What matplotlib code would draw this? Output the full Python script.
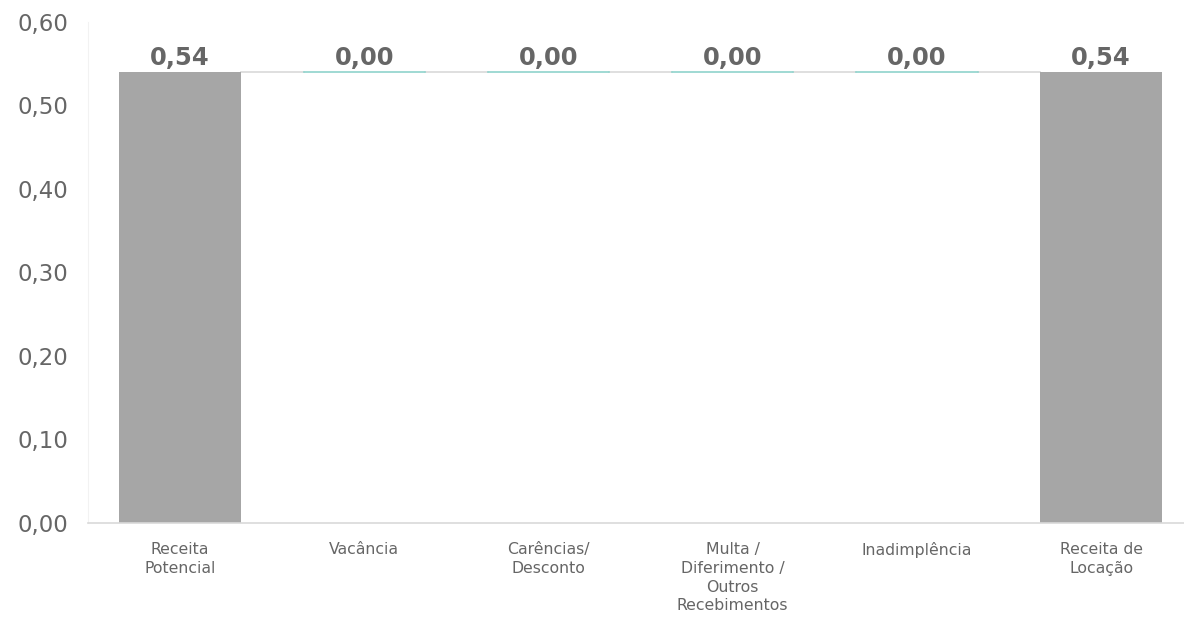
import matplotlib.pyplot as plt

plt.rcParams['font.family'] = ['DejaVu Sans']

# Chart data (waterfall)
categories = ['Receita\nPotencial', 'Vacância', 'Carências/\nDesconto',
              'Multa /\nDiferimento /\nOutros\nRecebimentos', 'Inadimplência',
              'Receita de\nLocação']
values = [0.54, 0.00, 0.00, 0.00, 0.00, 0.54]
is_total = [True, False, False, False, False, True]
y_ticks = [0.0, 0.1, 0.2, 0.3, 0.4, 0.5, 0.6]


def fmt(v):
    return f'{v:.2f}'.replace('.', ',')


fig = plt.figure(figsize=(11.84, 6.19), dpi=100)
ax = fig.add_axes([88 / 1184, 96 / 619, 1 - 88 / 1184, 0.8095])

bar_w = 0.66
running = 0.0
tops = []
for i, (v, tot) in enumerate(zip(values, is_total)):
    if tot:
        ax.bar(i, v, width=bar_w, color='#a6a6a6', zorder=2)
        running = v
        top = v
    else:
        bottom = running if v >= 0 else running + v
        ax.bar(i, abs(v), bottom=bottom, width=bar_w, color='#8fd3cc', zorder=2)
        # zero-height step still shows as a thin teal line
        ax.plot([i - bar_w / 2, i + bar_w / 2], [running + v] * 2,
                color='#8fd3cc', lw=1.2, zorder=3)
        running += v
        top = running
    tops.append(top)
    ax.annotate(fmt(v), (i, top), xytext=(0, 5), textcoords='offset points',
                ha='center', va='baseline', fontsize=17.5, fontweight='bold',
                color='#666666')

# connector lines between bars
for i in range(len(values) - 1):
    ax.plot([i + bar_w / 2, i + 1 - bar_w / 2], [tops[i], tops[i]],
            color='#d9d9d9', lw=1.2, zorder=1)

ax.set_xlim(-0.5, len(values) - 0.55)
ax.set_ylim(0, 0.6)
ax.set_yticks(y_ticks)
ax.set_yticklabels([fmt(t) for t in y_ticks], fontsize=16.5, color='#666666')
ax.set_xticks(range(len(categories)))
ax.set_xticklabels(categories, fontsize=11.3, color='#666666', linespacing=1.3,
                   va='top')
ax.tick_params(axis='both', length=0)
ax.tick_params(axis='x', pad=14)
ax.tick_params(axis='y', pad=14)
for s in ['top', 'right']:
    ax.spines[s].set_visible(False)
ax.spines['left'].set_color('#f2f2f2')
ax.spines['bottom'].set_color('#d9d9d9')
ax.spines['bottom'].set_linewidth(1.2)

fig.savefig('out.png', dpi=100)
